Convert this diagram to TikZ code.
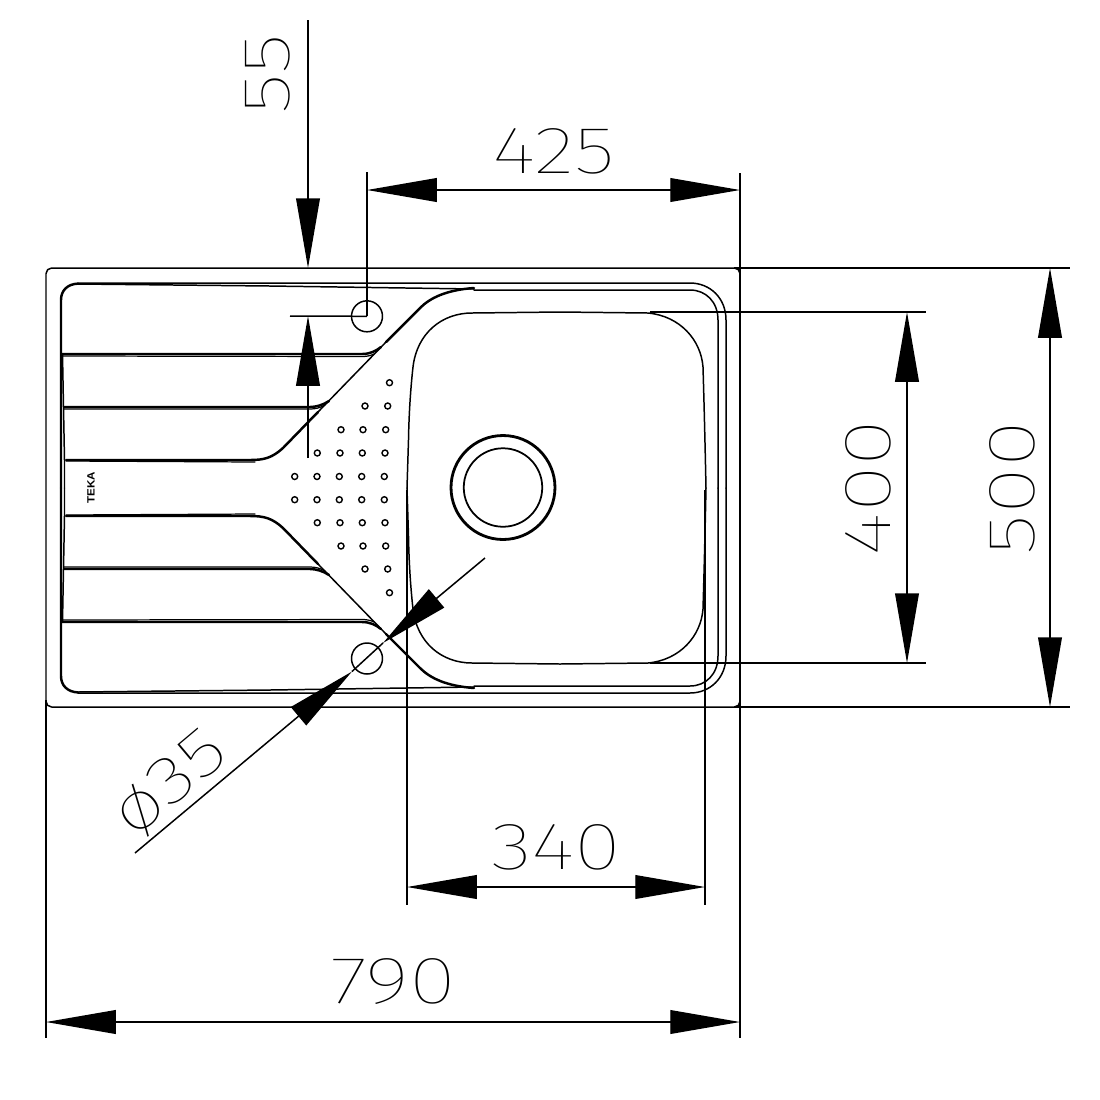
\documentclass[tikz,border=0pt]{standalone}
\usepackage{fontspec}
\usetikzlibrary{arrows.meta}
\newfontfamily\dimfont{Fira Sans Thin}
\newfontfamily\logofont{Liberation Sans}
\tikzset{
  ln/.style={line width=0.85pt,line join=round,line cap=round},
  heavy/.style={line width=1.4pt,line join=round,line cap=round},
  fine/.style={line width=0.7pt,line join=round,line cap=round},
  dim/.style={line width=0.85pt,line cap=butt},
  tip/.style={-{Triangle[length=39.7pt,width=13.5pt,sep=0pt]},line width=0.85pt,shorten >=0pt},
  tips/.style={{Triangle[length=39.7pt,width=13.5pt]}-{Triangle[length=39.7pt,width=13.5pt]},line width=0.85pt},
  dimtext/.style={inner sep=0pt,font=\dimfont\fontsize{38}{38}\selectfont,xscale=1.29}
}
\newcommand{\drainerhalf}{%
  % diagonal and its blends
  \draw[heavy] (474,288) .. controls (446,290) and (430,298) .. (420,308) -- (386,342);
  \draw[ln] (386,342) -- (318,412);
  \draw[heavy] (318,412) -- (283,448) .. controls (272,458) and (264,460) .. (250,460) -- (66,460);
  \draw[fine] (255,462) -- (66,461);
  % rib 1
  \draw[heavy] (62,354) -- (362,354) .. controls (370,354) and (376,351) .. (381,347);
  \draw[fine] (62,356) -- (362,356.5) .. controls (366,356.5) and (370,356) .. (374,354);
  % rib 2
  \draw[heavy] (64,407) -- (310,407) .. controls (316,407) and (323,405) .. (329,401);
  \draw[fine] (64,409) -- (310,409) .. controls (315,409) and (320,408) .. (325,405);
  % corner and drainer edge
  \draw[heavy] (61,488) -- (61,300) .. controls (61,290) and (68,284) .. (78,283.6);
  \draw[ln] (78,284) -- (270,286) -- (474,289);
  \draw[ln] (64.5,488) -- (64.5,460) -- (63.5,407) -- (62.5,354);
  % bowl half
  \draw[ln] (407,488) -- (408.5,440) .. controls (409,410) and (411,385) .. (413,367)
     .. controls (417,333) and (442,313) .. (472,313) -- (560,312) -- (648,313)
     .. controls (680,316) and (701,340) .. (703,367)
     .. controls (704,400) and (705,440) .. (706,488);
  % rims
  \draw[ln] (474,290) -- (690,290) .. controls (706,290) and (718,302) .. (718,320) -- (718,488);
  \draw[ln] (726,488) -- (726,320) .. controls (726,298) and (710,283) .. (690,283) -- (78,283);
}
\begin{document}
\begin{tikzpicture}[x=0.02cm,y=-0.02cm]
\useasboundingbox (0,0) rectangle (1100,1100);
\fill[white] (0,0) rectangle (1100,1100);

% outer sheet
\draw[ln,rounded corners=3.2pt] (46,268) rectangle (740,707);

% drainer and bowl, mirrored about y=488
\drainerhalf
\begin{scope}[shift={(0,976)},yscale=-1]
\drainerhalf
\end{scope}

% waste
\node[draw,circle,line width=1.6pt,minimum size=2.08cm,inner sep=0pt] (wasteOuter) at (503,487.5) {};
\node[draw,circle,line width=1pt,minimum size=1.57cm,inner sep=0pt] (wasteInner) at (503,487.5) {};

% tap holes
\node[draw,circle,line width=0.85pt,minimum size=0.62cm,inner sep=0pt] (holeTop) at (367,316.3) {};
\node[draw,circle,line width=0.85pt,minimum size=0.62cm,inner sep=0pt] (holeBot) at (367,658.5) {};

% perforations
\foreach \px/\py in {
  389.5/382.7,
  365/406,387.7/406,
  341/429.7,363/429.7,385.7/429.7,
  317.3/453,340/453,362.3/453,385/453,
  294.7/476.5,317/476.5,339.3/476.5,361.7/476.5,384.3/476.5,
  294.7/499.7,317/499.7,339.3/499.7,361.7/499.7,384.3/499.7,
  317.3/522.7,340/522.7,362.3/522.7,385/522.7,
  341/546,363/546,385.7/546,
  365/569,387.7/569,
  389.5/592.7}
  {\draw[line width=0.8pt] (\px,\py) circle (3);}

% logo
\node[rotate=90,inner sep=0pt,font=\logofont\bfseries\fontsize{6}{6}\selectfont,xscale=1.1] (logo) at (91,488) {TEKA};

% coordinates of the dimensions
\coordinate (LT) at (46,700);
\coordinate (LB) at (46,1038);
\coordinate (RB) at (740,1038);
\coordinate (RT) at (740,173);

% 790
\draw[dim] (LT) -- (LB);
\draw[dim] (RT) -- (RB);
\draw[tips] (46,1022) -- (740,1022);
\node[dimtext] (t790) at (393,982) {790};

% 425
\draw[dim] (367,172) -- (holeTop.center);
\draw[tips] (367,190) -- (740,190);
\node[dimtext] (t425) at (554,151) {425};

% 55
\coordinate (a55top) at (308,20);
\coordinate (a55tip) at (308,268);
\coordinate (a55low) at (308,458);
\coordinate (a55tip2) at (308,316);
\draw[tip] (a55top) -- (a55tip);
\draw[tip] (a55low) -- (a55tip2);
\draw[dim] (290,316) -- (holeTop.center);
\node[rotate=90,dimtext] (t55) at (268,74) {55};

% 500
\draw[dim] (734,268) -- (1070,268);
\draw[dim] (734,707) -- (1070,707);
\draw[tips] (1050,268) -- (1050,707);
\node[rotate=90,dimtext] (t500) at (1012,488) {500};

% 400
\draw[dim] (650,312) -- (926,312);
\draw[dim] (650,663) -- (926,663);
\draw[tips] (907,312) -- (907,663);
\node[rotate=90,dimtext] (t400) at (868,488) {400};

% 340
\draw[dim] (407,490) -- (407,905);
\draw[dim] (705,490) -- (705,905);
\draw[tips] (407,887) -- (705,887);
\node[dimtext] (t340) at (556,847) {340};

% diameter 35
\coordinate (dA) at (135,853);
\coordinate (dB) at (485,558);
\coordinate (dTipA) at (352,671.5);
\coordinate (dTipB) at (383,643);
\draw[tip] (dA) -- (dTipA);
\draw[tip] (dB) -- (dTipB);
\draw[dim] (dTipA) -- (dTipB);
\node[rotate=40,dimtext] (t35) at (171,784) {ø35};
\end{tikzpicture}
\end{document}
